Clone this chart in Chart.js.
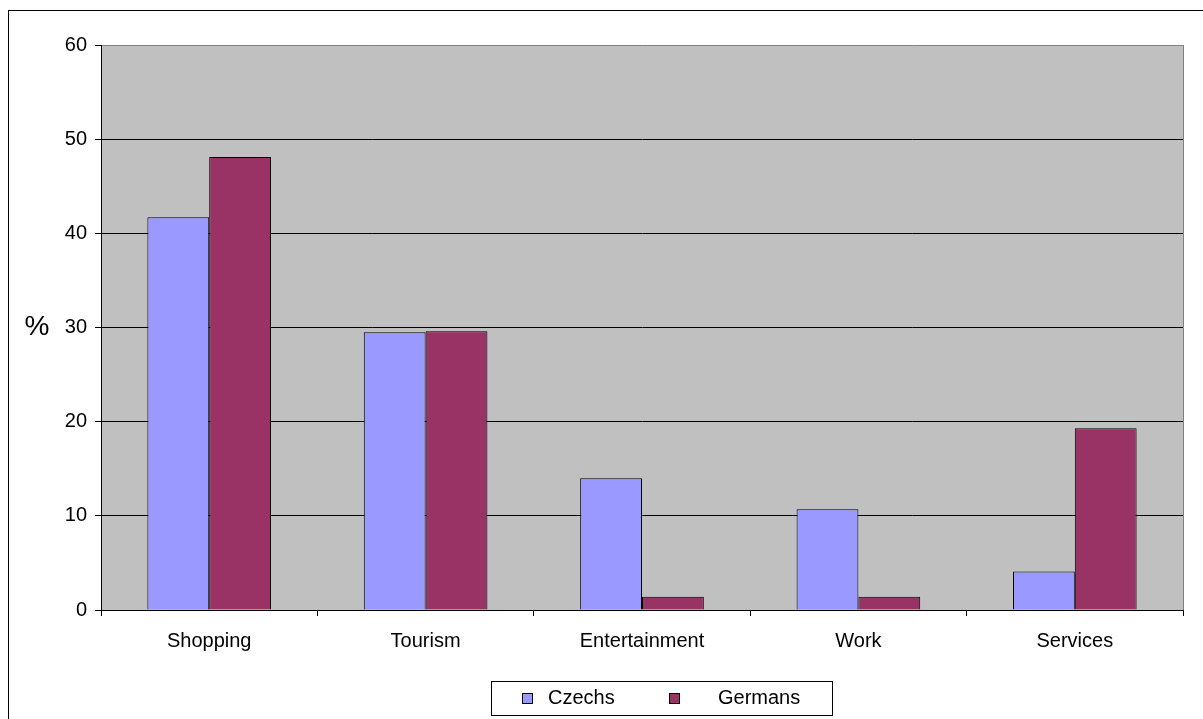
<!DOCTYPE html>
<html lang="en">
<head>
  <meta charset="UTF-8">
  <title>Purpose of visit - Czechs and Germans</title>
  <style>
    body {
      margin: 0;
      padding: 0;
      background-color: white;
    }
    canvas {
      display: block;
    }
  </style>
  <script src="https://cdn.jsdelivr.net/npm/chart.js"></script>
</head>
<body>

  <canvas id="visitChart" width="1203" height="719"></canvas>

  <script>
    // Data
    const categories = ['Shopping', 'Tourism', 'Entertainment', 'Work', 'Services'];
    const czechs = [41.7, 29.5, 14.0, 10.7, 4.1];
    const germans = [48.1, 29.6, 1.4, 1.4, 19.3];
    const yTicks = [0, 10, 20, 30, 40, 50, 60];

    const FONT = '"Liberation Sans", Arial, sans-serif';

    // Grey plot area, outer frame, "%" label and the boxed legend
    const decorations = {
      id: 'decorations',
      beforeDraw(chart) {
        const ctx = chart.ctx;
        const a = chart.chartArea;
        ctx.save();
        ctx.fillStyle = '#ffffff';
        ctx.fillRect(0, 0, chart.width, chart.height);
        ctx.fillStyle = '#C0C0C0';
        ctx.fillRect(a.left, a.top, a.right - a.left, a.bottom - a.top);
        ctx.restore();
      },
      afterDraw(chart) {
        const ctx = chart.ctx;
        const a = chart.chartArea;
        ctx.save();

        // right edge of the plot
        ctx.strokeStyle = '#808080';
        ctx.lineWidth = 1;
        ctx.beginPath();
        ctx.moveTo(a.right + 0.5, a.top);
        ctx.lineTo(a.right + 0.5, a.bottom);
        ctx.stroke();

        // outer frame
        ctx.strokeStyle = '#000';
        ctx.strokeRect(8.5, 10.5, 1400, 900);

        // "%" axis label beside the 30 tick
        const y30 = chart.scales.y.getPixelForValue(30);
        ctx.fillStyle = '#000';
        ctx.font = '28px ' + FONT;
        ctx.textAlign = 'center';
        ctx.textBaseline = 'middle';
        ctx.fillText('%', 37, y30);

        // legend
        ctx.strokeStyle = '#000';
        ctx.strokeRect(491.5, 681.5, 341, 34);
        ctx.font = '20px ' + FONT;
        ctx.textAlign = 'left';
        const items = [
          { x: 522, tx: 548, ds: chart.data.datasets[0] },
          { x: 669, tx: 718, ds: chart.data.datasets[1] }
        ];
        items.forEach(it => {
          ctx.fillStyle = it.ds.backgroundColor;
          ctx.fillRect(it.x, 693, 10, 10);
          ctx.strokeRect(it.x + 0.5, 693.5, 10, 10);
          ctx.fillStyle = '#000';
          ctx.fillText(it.ds.label, it.tx, 698);
        });

        ctx.restore();
      }
    };

    const ctx = document.getElementById('visitChart').getContext('2d');
    const chart = new Chart(ctx, {
      type: 'bar',
      data: {
        labels: categories,
        datasets: [
          {
            label: 'Czechs',
            data: czechs,
            backgroundColor: '#9999FF',
            borderColor: '#000000',
            borderWidth: 1,
            categoryPercentage: 0.5714,
            barPercentage: 1.0
          },
          {
            label: 'Germans',
            data: germans,
            backgroundColor: '#993366',
            borderColor: '#000000',
            borderWidth: 1,
            categoryPercentage: 0.5714,
            barPercentage: 1.0
          }
        ]
      },
      options: {
        responsive: false,
        animation: false,
        layout: {
          padding: { left: 0, top: 45, right: 20, bottom: 0 }
        },
        plugins: {
          legend: { display: false },
          tooltip: { enabled: false }
        },
        scales: {
          x: {
            grid: {
              offset: true,
              drawOnChartArea: false,
              tickLength: 6,
              color: '#000'
            },
            border: { color: '#000' },
            ticks: {
              color: '#000',
              font: { family: FONT, size: 20 },
              padding: 13,
              maxRotation: 0
            },
            afterFit(scale) { scale.height = 109; }
          },
          y: {
            min: 0,
            max: 60,
            afterBuildTicks(scale) {
              scale.ticks = yTicks.map(v => ({ value: v }));
            },
            grid: {
              color: c => (c.tick && c.tick.value === 60) ? '#808080' : '#000',
              tickColor: '#000',
              tickLength: 6
            },
            border: { color: '#000' },
            ticks: {
              color: '#000',
              font: { family: FONT, size: 20 },
              padding: 8
            },
            afterFit(scale) { scale.width = 101; }
          }
        }
      },
      plugins: [decorations]
    });
  </script>

</body>
</html>
